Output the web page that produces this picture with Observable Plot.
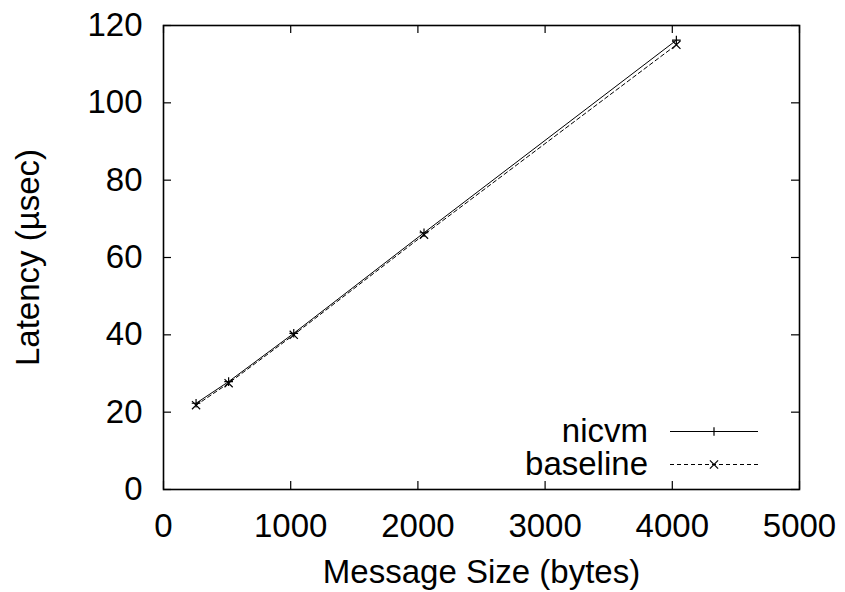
<!DOCTYPE html>
<html>
<head>
<meta charset="utf-8">
<script src="https://cdn.jsdelivr.net/npm/d3@7"></script>
<script src="https://cdn.jsdelivr.net/npm/@observablehq/plot@0.6"></script>
<style>
  html, body { margin: 0; padding: 0; background: #fff; }
  #wrap { position: relative; width: 845px; height: 592px; }
  #legend { position: absolute; left: 0; top: 0; pointer-events: none; }
</style>
</head>
<body>
<div id="wrap"></div>
<script>
// ---- data ----
const sizes = [256, 512, 1024, 2048, 4032];
const nicvm = [22.3, 27.9, 40.4, 66.4, 116.2];
const baseline = [21.8, 27.5, 40.0, 65.9, 115.0];
const seriesNames = ["nicvm", "baseline"];
const xTicks = [0, 1000, 2000, 3000, 4000, 5000];
const yTicks = [0, 20, 40, 60, 80, 100, 120];
const xTitle = "Message Size (bytes)";
const yTitle = "Latency (µsec)";

const rows = [];
sizes.forEach((s, i) => {
  rows.push({series: seriesNames[0], size: s, latency: nicvm[i]});
  rows.push({series: seriesNames[1], size: s, latency: baseline[i]});
});
const nicRows = rows.filter(d => d.series === "nicvm");
const baseRows = rows.filter(d => d.series === "baseline");

const W = 845, H = 592, mL = 163, mR = 46, mT = 25, mB = 103;
const innerW = W - mL - mR, innerH = H - mT - mB;
const FONT = "'Liberation Sans', Arial, Helvetica, sans-serif";
const rPlus = 2.9, rTimes = 3.8;

const chart = Plot.plot({
  width: W, height: H,
  marginLeft: mL, marginRight: mR, marginTop: mT, marginBottom: mB,
  style: {fontFamily: FONT, fontSize: "33px", color: "black", background: "white", overflow: "visible"},
  x: {domain: [0, 5000], label: null},
  y: {domain: [0, 120], label: null},
  marks: [
    // inward ticks on all four sides
    Plot.tickX(xTicks, {x: d => d, insetTop: innerH - 8, stroke: "black", strokeWidth: 1.2}),
    Plot.tickX(xTicks, {x: d => d, insetBottom: innerH - 8, stroke: "black", strokeWidth: 1.2}),
    Plot.tickY(yTicks, {y: d => d, insetRight: innerW - 8, stroke: "black", strokeWidth: 1.2}),
    Plot.tickY(yTicks, {y: d => d, insetLeft: innerW - 8, stroke: "black", strokeWidth: 1.2}),
    Plot.axisX({ticks: xTicks, tickSize: 0, tickPadding: 24, tickFormat: d => String(d), label: null, fill: "black"}),
    Plot.axisY({ticks: yTicks, tickSize: 0, tickPadding: 21, tickFormat: d => String(d), label: null, fill: "black"}),
    Plot.text([xTitle], {frameAnchor: "bottom", text: d => d, dy: 93, fill: "black"}),
    Plot.text([yTitle], {frameAnchor: "left", textAnchor: "middle", text: d => d, rotate: -90, dx: -135, fill: "black"}),
    Plot.line(baseRows, {x: "size", y: "latency", stroke: "black", strokeWidth: 1, strokeDasharray: "4,3"}),
    Plot.line(nicRows, {x: "size", y: "latency", stroke: "black", strokeWidth: 1}),
    Plot.dot(nicRows, {x: "size", y: "latency", symbol: "plus", r: rPlus, stroke: "black", strokeWidth: 1.2}),
    Plot.dot(baseRows, {x: "size", y: "latency", symbol: "times", r: rTimes, stroke: "black", strokeWidth: 1.2}),
    Plot.frame({stroke: "black", strokeWidth: 1.6})
  ]
});

const wrap = document.getElementById("wrap");
wrap.appendChild(chart);

// ---- legend (inside plot area, bottom right) ----
const lg = d3.select(wrap).append("svg")
  .attr("id", "legend").attr("width", W).attr("height", H)
  .style("font-family", FONT).style("font-size", "33px");
const entries = [
  {name: seriesNames[0], dash: null, sym: d3.symbolPlus, size: rPlus * rPlus * Math.PI, y: 431.5},
  {name: seriesNames[1], dash: "4,3", sym: d3.symbolTimes, size: rTimes * rTimes * Math.PI, y: 464.5}
];
entries.forEach(e => {
  lg.append("text").attr("x", 648).attr("y", e.y).attr("dy", "0.32em")
    .attr("text-anchor", "end").attr("fill", "black").text(e.name);
  lg.append("line").attr("x1", 670).attr("x2", 758).attr("y1", e.y).attr("y2", e.y)
    .attr("stroke", "black").attr("stroke-width", 1).attr("stroke-dasharray", e.dash);
  lg.append("path").attr("transform", `translate(714,${e.y})`)
    .attr("d", d3.symbol(e.sym, e.size)()).attr("fill", "none").attr("stroke", "black").attr("stroke-width", 1.2);
});
</script>
</body>
</html>
